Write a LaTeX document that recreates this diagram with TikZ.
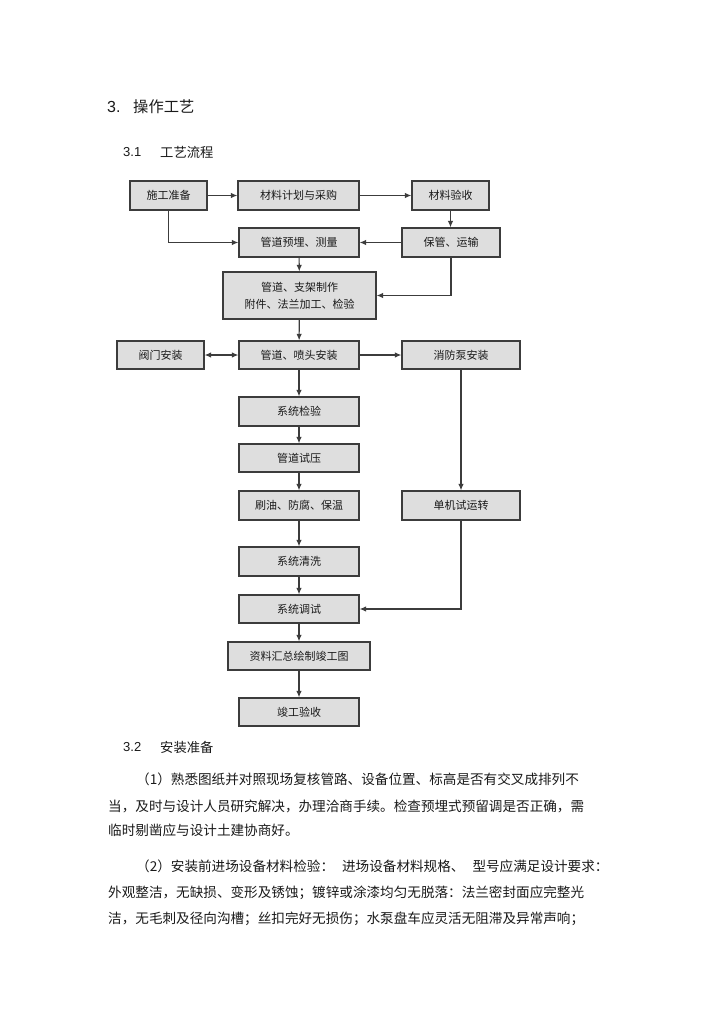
\documentclass[tikz,border=0pt]{standalone}
\usepackage{fontspec}
\setmainfont{Liberation Sans}
\newfontfamily\cjk{Noto Sans CJK SC}
\usetikzlibrary{arrows.meta}
\definecolor{boxfill}{HTML}{DEDEDE}
\definecolor{boxline}{HTML}{3C3C3C}
\definecolor{txt}{HTML}{1A1A1A}
\begin{document}
\begin{tikzpicture}[x=1pt,y=-1pt,
  flowbox/.style={draw=boxline, fill=boxfill, line width=1.3pt, inner sep=0pt,
    font=\cjk\fontsize{11}{17}\selectfont, align=center, text=txt,
    minimum height=29pt},
  conn/.style={draw=boxline, line width=1.1pt, -{Latex[length=6.5pt,width=5.5pt]}},
  body/.style={anchor=west, inner sep=0pt, text=txt, font=\cjk\fontsize{13.6}{16}\selectfont},
]
\useasboundingbox (0,0) rectangle (720,1018);
\fill[white] (0,0) rectangle (720,1018);

% headings
\node[anchor=west, inner sep=0pt, text=txt, font=\fontsize{16}{18}\selectfont] (h3num) at (107,107) {3.};
\node[anchor=west, inner sep=0pt, text=txt, font=\cjk\fontsize{15.3}{18}\selectfont] (h3) at (133,107) {操作工艺};
\node[anchor=west, inner sep=0pt, text=txt, font=\fontsize{13}{15}\selectfont] (h31num) at (123,152) {3.1};
\node[anchor=west, inner sep=0pt, text=txt, font=\cjk\fontsize{13.3}{15}\selectfont] (h31) at (160,152) {工艺流程};

% flow boxes
\node[flowbox, minimum width=77pt]  (a) at (168.5,195.5) {施工准备};
\node[flowbox, minimum width=121pt] (b) at (298.5,195.5) {材料计划与采购};
\node[flowbox, minimum width=77pt]  (c) at (450.5,195.5) {材料验收};
\node[flowbox, minimum width=120pt] (d) at (299,242.5) {管道预埋、测量};
\node[flowbox, minimum width=98pt]  (e) at (451,242.5) {保管、运输};
\node[flowbox, minimum width=153pt, minimum height=47pt] (f) at (299.5,295.5) {管道、支架制作\\附件、法兰加工、检验};
\node[flowbox, minimum width=87pt, minimum height=28pt]  (g) at (160.5,355) {阀门安装};
\node[flowbox, minimum width=120pt, minimum height=28pt] (h) at (299,355) {管道、喷头安装};
\node[flowbox, minimum width=118pt, minimum height=28pt] (i) at (461,355) {消防泵安装};
\node[flowbox, minimum width=120pt] (j) at (299,411.5) {系统检验};
\node[flowbox, minimum width=120pt, minimum height=28pt] (k) at (299,458) {管道试压};
\node[flowbox, minimum width=120pt] (l) at (299,505.5) {刷油、防腐、保温};
\node[flowbox, minimum width=118pt] (m) at (461,505.5) {单机试运转};
\node[flowbox, minimum width=120pt] (n) at (299,561.5) {系统清洗};
\node[flowbox, minimum width=120pt, minimum height=28pt] (o) at (299,609) {系统调试};
\node[flowbox, minimum width=142pt, minimum height=28pt] (p) at (299,656) {资料汇总绘制竣工图};
\node[flowbox, minimum width=120pt, minimum height=28pt] (q) at (299,712) {竣工验收};

% connectors
\draw[conn] (a) -- (b);
\draw[conn] (b) -- (c);
\draw[conn] (a.south) |- (d.west);
\draw[conn] (c.south) -- (c.south |- e.north);
\draw[conn] (e) -- (d);
\draw[conn] (d) -- (f);
\draw[conn] (e.south) |- (f.east);
\draw[conn] (f) -- (h);
\draw[conn, {Latex[length=6.5pt,width=5.5pt]}-{Latex[length=6.5pt,width=5.5pt]}] (g) -- (h);
\draw[conn] (h) -- (i);
\draw[conn] (h) -- (j);
\draw[conn] (j) -- (k);
\draw[conn] (k) -- (l);
\draw[conn] (l) -- (n);
\draw[conn] (n) -- (o);
\draw[conn] (o) -- (p);
\draw[conn] (p) -- (q);
\draw[conn] (i) -- (m);
\draw[conn] (m.south) |- (o.east);

% section 3.2
\node[anchor=west, inner sep=0pt, text=txt, font=\fontsize{13}{15}\selectfont] (h32num) at (123,747) {3.2};
\node[anchor=west, inner sep=0pt, text=txt, font=\cjk\fontsize{13.3}{15}\selectfont] (h32) at (160,747) {安装准备};

\node[body] (l1) at (136,779) {（1）熟悉图纸并对照现场复核管路、设备位置、标高是否有交叉成排列不};
\node[body] (l2) at (108,806) {当，及时与设计人员研究解决，办理洽商手续。检查预埋式预留调是否正确，需};
\node[body] (l3) at (108,830) {临时剔凿应与设计土建协商好。};
\node[body] (l4) at (136,866) {（2）安装前进场设备材料检验：\hspace{8pt}进场设备材料规格、\hspace{8pt}型号应满足设计要求：};
\node[body] (l5) at (108,893) {外观整洁，无缺损、变形及锈蚀；镀锌或涂漆均匀无脱落：法兰密封面应完整光};
\node[body] (l6) at (108,919) {洁，无毛刺及径向沟槽；丝扣完好无损伤；水泵盘车应灵活无阻滞及异常声响；};
\end{tikzpicture}
\end{document}
